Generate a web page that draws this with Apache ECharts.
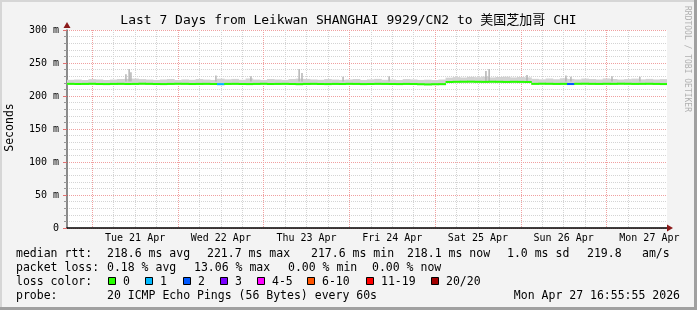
<!DOCTYPE html>
<html><head><meta charset="utf-8">
<script src="https://cdn.jsdelivr.net/npm/echarts@6/dist/echarts.min.js"></script>
<style>html,body{margin:0;padding:0;background:#f3f3f3}#c{width:697px;height:310px}</style>
</head><body><div id="c"></div>
<script>
// ---------------- data ----------------
const titleText = 'Last 7 Days from Leikwan SHANGHAI 9929/CN2 to 美国芝加哥 CHI';
const dayLabels = ['Tue 21 Apr','Wed 22 Apr','Thu 23 Apr','Fri 24 Apr','Sat 25 Apr','Sun 26 Apr','Mon 27 Apr'];
const yTickLabels = ['0','50 m','100 m','150 m','200 m','250 m','300 m'];
// 2-hour samples starting Mon 20 Apr 16:55:55
const medianRtt = [
  218.4,218.2,218.3,218.5,218.2,218.1,218.3,218.4,218.2,218.3,218.6,218.4,
  218.2,218.1,218.3,218.5,218.4,218.2,218.3,218.4,218.2,218.0,218.3,218.4,
  218.2,218.1,218.3,218.5,218.2,218.3,218.4,218.2,218.0,218.3,218.4,218.2,
  218.1,218.3,218.2,218.4,218.3,218.1,218.2,218.4,218.3,218.2,218.1,218.3,
  218.2,217.9,217.6,217.9,218.0,221.2,221.5,221.6,221.7,221.5,221.4,221.6,
  221.5,221.3,221.5,221.4,221.2,218.4,218.6,218.5,218.3,218.4,218.2,218.5,
  218.6,218.4,218.3,218.5,218.4,218.6,218.5,218.3,218.4,218.5,218.3,218.1
];
const smokeHigh = [
  224.5,225.0,224.2,225.6,225.1,224.3,225.0,225.8,226.0,226.4,225.6,225.0,
  224.4,225.1,225.8,224.3,225.2,224.6,225.7,225.0,224.4,226.2,225.3,225.9,
  224.6,226.5,225.0,224.4,225.8,225.1,224.5,225.7,226.3,225.9,225.1,224.6,
  225.7,225.0,224.5,225.1,225.8,224.4,225.2,225.9,224.6,225.0,224.3,225.6,
  225.1,224.4,224.8,224.2,225.0,227.8,228.6,228.0,229.0,228.5,229.4,228.1,
  228.8,229.2,228.1,228.7,228.2,226.0,225.3,226.5,225.4,226.8,225.9,225.2,
  226.4,225.7,225.1,226.6,225.8,225.0,225.6,226.3,225.2,225.9,225.1,225.6
];
const smokeLow = [
  216.9,216.7,216.8,217.0,216.6,216.5,216.8,216.9,216.6,216.7,217.0,216.8,
  216.6,216.5,216.8,217.0,216.9,216.6,216.8,216.9,216.7,216.2,216.8,216.9,
  216.7,216.5,216.8,217.0,216.6,216.8,216.9,216.7,216.3,216.8,216.9,216.7,
  216.5,216.8,216.6,216.9,216.8,216.5,216.7,216.9,216.8,216.6,216.5,216.8,
  216.6,216.3,216.1,216.3,216.4,219.8,220.1,220.2,220.3,220.0,219.9,220.2,
  220.0,219.8,220.1,219.9,219.7,216.9,217.1,217.0,216.8,216.6,216.5,217.0,
  217.1,216.9,216.8,217.0,216.9,217.1,217.0,216.8,216.9,217.0,216.8,216.6
];
const lossCount = [
  0,0,0,0,0,0,0,0,0,0,0,0,
  0,0,0,0,0,0,0,0,0,1,0,0,
  0,0,0,0,0,0,0,0,0,0,0,0,
  0,0,0,0,0,0,0,0,0,0,0,0,
  0,0,0,0,0,0,0,0,0,0,0,0,
  0,0,0,0,0,0,0,0,0,0,2,0,
  0,0,0,0,0,0,0,0,0,0,0,0
];
// outlier pings: hours after start, ms
const spikeHours = [16.5,17.4,17.9,41.7,51.5,65.0,65.8,77.3,90.2,117.3,118.2,128.8,139.7,141.1,152.6,160.4];
const spikeTops  = [233, 241, 236, 231, 230, 241, 235, 229, 230, 238, 241, 232, 231, 229, 230, 229];
const statLabels = ['median rtt:','packet loss:','loss color:','probe:'];
const rttStats = ['218.6 ms avg','221.7 ms max','217.6 ms min','218.1 ms now','1.0 ms sd','219.8','am/s'];
const lossStats = ['0.18 % avg','13.06 % max','0.00 % min','0.00 % now'];
const lossBins = ['0','1','2','3','4-5','6-10','11-19','20/20'];
const lossColors = ['#26ff00','#00b8ff','#0059ff','#7a00ff','#ff00ff','#ff5500','#ff0000','#a10000'];
const probeText = '20 ICMP Echo Pings (56 Bytes) every 60s';
const dateText = 'Mon Apr 27 16:55:55 2026';

// ---------------- layout ----------------
const MONO = "'DejaVu Sans Mono','Noto Sans CJK SC',monospace";
const START = 16 + 55/60 + 55/3600; // hours after Mon 20 Apr 00:00
const STEP = 2;
const END = START + 168;
const PLOT_L = 67, PLOT_R = 30, PLOT_W = 697 - PLOT_L - PLOT_R;
const PX = PLOT_W / 168;
// helper grid spanning Mon 20 00:00 .. Tue 28 00:00 so that day lines count from a midnight min
const G2_MIN = 0, G2_MAX = 192;
const G2_LEFT = PLOT_L - (START - G2_MIN) * PX;
const G2_RIGHT = 697 - (PLOT_L + (G2_MAX - START) * PX);
const rowY = [254, 268, 282, 296.5];
const rttX = [107, 207, 311, 407, 507, 587, 642];
const lossX = [107, 194, 288, 372];
const binX = [108.5,145.5,183.5,220.5,257.5,307.5,366.5,431.5];

// axis tick positions (hours after Mon 20 Apr 00:00)
const sixHourTicks = [], noonTicks = [];
for (let h = 18; h <= 180; h += 6) { if (h % 24 !== 0) sixHourTicks.push(h); }
for (let h = 36; h <= 180; h += 24) noonTicks.push(h);

function lossBin(c){
  if (c <= 0) return 0; if (c <= 1) return 1; if (c <= 2) return 2; if (c <= 3) return 3;
  if (c <= 5) return 4; if (c <= 10) return 5; if (c < 20) return 6; return 7;
}

const smokeData = smokeHigh.map((h,i)=>[START+i*STEP, smokeLow[i], h]);
const medData = medianRtt.map((m,i)=>[START+i*STEP, m, lossCount[i]]);
const spikeData = spikeHours.map((h,i)=>[START+h, spikeTops[i]]);

function renderSmoke(params, api){
  const t = api.value(0);
  const p0 = api.coord([t, api.value(2)]);
  const p1 = api.coord([t+STEP, api.value(1)]);
  return {type:'rect', shape:{x:p0[0], y:p0[1], width:p1[0]-p0[0]+0.5, height:p1[1]-p0[1]},
          style:{fill:'#d2d2d2'}};
}
function renderSpike(params, api){
  const p0 = api.coord([api.value(0), api.value(1)]);
  const p1 = api.coord([api.value(0), 222]);
  return {type:'rect', shape:{x:p0[0]-0.75, y:p0[1], width:1.5, height:p1[1]-p0[1]},
          style:{fill:'#b4b4b4'}};
}
function renderMedian(params, api){
  const t = api.value(0);
  const p0 = api.coord([t, api.value(1)]);
  const p1 = api.coord([t+STEP, api.value(1)]);
  return {type:'rect', shape:{x:p0[0], y:p0[1]-1, width:p1[0]-p0[0]+0.5, height:2},
          style:{fill:lossColors[lossBin(api.value(2))]}};
}

const T = (text, x, y, extra) => Object.assign({type:'text', x:x, y:y, silent:true,
  style:Object.assign({text:text, fill:'#000', font:'11.5px '+MONO, textAlign:'left', textVerticalAlign:'middle'}, extra||{})});

const graphic = [];
graphic.push({type:'rect', shape:{x:0,y:0,width:697,height:2}, style:{fill:'#d6d6d6'}, silent:true});
graphic.push({type:'rect', shape:{x:0,y:0,width:2,height:310}, style:{fill:'#d6d6d6'}, silent:true});
graphic.push({type:'rect', shape:{x:0,y:307,width:697,height:3}, style:{fill:'#a0a0a0'}, silent:true});
graphic.push({type:'rect', shape:{x:694,y:0,width:3,height:310}, style:{fill:'#a0a0a0'}, silent:true});
graphic.push(T(titleText, 348.5, 20.5, {font:'13px '+MONO, textAlign:'center'}));
graphic.push(Object.assign(T('Seconds', 10, 127.5, {textAlign:'center'}), {rotation:Math.PI/2}));
graphic.push(Object.assign(T('RRDTOOL / TOBI OETIKER', 687.5, 59, {textAlign:'center', font:'8px '+MONO, fill:'#b0b0b0'}), {rotation:-Math.PI/2}));
statLabels.forEach((s,i)=>graphic.push(T(s, 16, rowY[i])));
rttStats.forEach((s,i)=>graphic.push(T(s, rttX[i], rowY[0])));
lossStats.forEach((s,i)=>graphic.push(T(s, lossX[i], rowY[1])));
lossBins.forEach((s,i)=>{
  graphic.push({type:'rect', silent:true, shape:{x:binX[i], y:rowY[2]-4.5, width:7, height:7},
    style:{fill:lossColors[i], stroke:'#000', lineWidth:1}});
  graphic.push(T(s, binX[i]+14.5, rowY[2]));
});
graphic.push(T(probeText, 107, rowY[3]));
graphic.push(T(dateText, 680, rowY[3], {textAlign:'right'}));

const chart = echarts.init(document.getElementById('c'), null, {renderer:'canvas', width:697, height:310});
chart.setOption({
  animation:false,
  backgroundColor:'#f3f3f3',
  grid:[
    {left:PLOT_L, right:PLOT_R, top:30, bottom:82, show:true, backgroundColor:'#ffffff', borderWidth:0},
    {left:G2_LEFT, right:G2_RIGHT, top:30, bottom:82, show:false}
  ],
  xAxis:[
    {type:'value', gridIndex:0, min:START, max:END, position:'bottom',
     axisLine:{show:true, onZero:false, lineStyle:{color:'#000', width:1.5}},
     axisTick:{show:false, customValues:sixHourTicks},
     axisLabel:{margin:5, fontFamily:MONO, fontSize:10, color:'#000', customValues:noonTicks,
       formatter:function(v){ return dayLabels[Math.round((v-36)/24)] || ''; }},
     splitLine:{show:true, showMinLine:false, showMaxLine:false, lineStyle:{color:'#d4d4d4', type:[1,1], width:1}}},
    {type:'value', gridIndex:0, min:START, max:END, position:'bottom',
     axisLine:{show:true, onZero:false, symbol:['none','triangle'], symbolSize:[7,6], symbolOffset:[0,3],
       lineStyle:{color:'#8b1a1a', width:0}},
     axisTick:{show:false}, axisLabel:{show:false}, splitLine:{show:false}},
    {type:'value', gridIndex:1, min:G2_MIN, max:G2_MAX, interval:24, position:'bottom',
     axisLine:{show:false}, axisTick:{show:false}, axisLabel:{show:false},
     splitLine:{show:true, showMinLine:false, showMaxLine:false, lineStyle:{color:'#f0a0a0', type:[1,1], width:1}}}
  ],
  yAxis:[
    {type:'value', gridIndex:0, min:0, max:300, interval:50, position:'left',
     axisLine:{show:true, onZero:false, lineStyle:{color:'#666', width:1.5}},
     axisTick:{show:true, length:4, lineStyle:{color:'#e07070'}},
     minorTick:{show:true, splitNumber:5, length:3, lineStyle:{color:'#999'}},
     axisLabel:{margin:8, fontFamily:MONO, fontSize:10, color:'#000',
       formatter:function(v){ return yTickLabels[Math.round(v/50)]; }},
     splitLine:{show:true, lineStyle:{color:'#f0a0a0', type:[1,1], width:1}},
     minorSplitLine:{show:true, lineStyle:{color:'#d4d4d4', type:[1,1], width:1}}},
    {type:'value', gridIndex:0, min:0, max:300, position:'left',
     axisLine:{show:true, onZero:false, symbol:['none','triangle'], symbolSize:[7,6], symbolOffset:[0,5],
       lineStyle:{color:'#8b1a1a', width:0}},
     axisTick:{show:false}, axisLabel:{show:false}, splitLine:{show:false}},
    {type:'value', gridIndex:1, min:0, max:300, show:false}
  ],
  series:[
    {type:'custom', xAxisIndex:0, yAxisIndex:0, clip:true, silent:true, z:2,
     data:smokeData, encode:{x:0, y:[1,2]}, renderItem:renderSmoke},
    {type:'custom', xAxisIndex:0, yAxisIndex:0, clip:true, silent:true, z:2,
     data:spikeData, encode:{x:0, y:1}, renderItem:renderSpike},
    {type:'custom', xAxisIndex:0, yAxisIndex:0, clip:true, silent:true, z:3,
     data:medData, encode:{x:0, y:1}, renderItem:renderMedian}
  ],
  graphic:graphic
});
</script>
</body></html>
